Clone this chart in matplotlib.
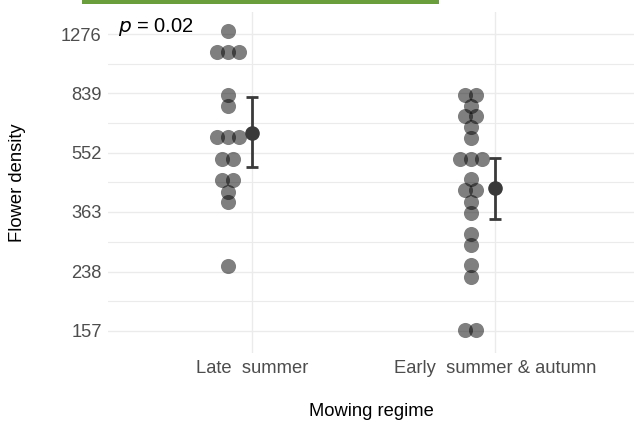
import numpy as np
import matplotlib
matplotlib.use('Agg')
import matplotlib.pyplot as plt
from matplotlib.patches import Rectangle

plt.rcParams['font.family'] = ['Liberation Sans', 'DejaVu Sans']

# data
groups = ['Late  summer', 'Early  summer & autumn']
late = [1303, 1121, 1121, 1121, 829, 767, 615, 615, 615, 528, 528,
        454, 454, 419, 389, 248]
early = [829, 829, 767, 715, 715, 663, 611, 527, 527, 527, 457, 424,
         424, 390, 361, 311, 287, 249, 230, 158, 158]
means = [635, 429]
lo = [498, 346]
hi = [816, 533]
yticks = [157, 238, 363, 552, 839, 1276]
ptext = '$p$ = 0.02'

W, H = 634, 422
fig = plt.figure(figsize=(W / 100, H / 100), dpi=100)
ax = fig.add_axes([108 / W, (H - 353) / H, (634 - 108) / W, (353 - 12) / H])

# green strip at top
fig.patches.append(Rectangle((82 / W, 1 - 4 / H), (439 - 82) / W, 4 / H,
                             transform=fig.transFigure, color='#6a9e3c', lw=0))

def stack(vals, xc, step=0.045):
    # spread equal values side by side (dotplot style)
    vals = np.array(vals)
    xs = np.zeros(len(vals))
    for v in np.unique(vals):
        idx = np.where(vals == v)[0]
        n = len(idx)
        xs[idx] = xc + (np.arange(n) - (n - 1) / 2) * step
    return xs

for i, vals in enumerate([late, early]):
    xs = stack(vals, i + 1 - 0.1)
    ax.scatter(xs, vals, s=118, color='black', alpha=0.5, lw=0, zorder=3)

xpos = np.arange(1, 3)
yerr = [np.array(means) - np.array(lo), np.array(hi) - np.array(means)]
ax.errorbar(xpos, means, yerr=yerr, fmt='o', color='#3a3a3a', ms=9.5,
            lw=2.0, capsize=4.3, capthick=2.0, zorder=4)

ax.set_yscale('log')
ax.set_ylim(134, 1491)
ax.set_xlim(0.407, 2.572)
ax.set_yticks(yticks)
ax.set_yticklabels([str(t) for t in yticks])
minor = [np.sqrt(yticks[k] * yticks[k + 1]) for k in range(len(yticks) - 1)]
ax.set_yticks(minor, minor=True)
ax.set_yticklabels([], minor=True)
ax.set_xticks(xpos)
ax.set_xticklabels(groups)

ax.tick_params(axis='both', which='both', length=0, labelsize=13.2,
               labelcolor='#4d4d4d')
ax.tick_params(axis='y', pad=4.5)
ax.tick_params(axis='x', pad=5)
ax.grid(True, which='major', color='#ebebeb', lw=1.0)
ax.grid(True, which='minor', axis='y', color='#ebebeb', lw=0.8)
ax.set_axisbelow(True)
for s in ax.spines.values():
    s.set_visible(False)

ax.text(10 / 526, (353 - 27) / 341, ptext, transform=ax.transAxes,
        fontsize=14.5, va='center', ha='left', color='black')

fig.text(18 / W, 1 - 183 / H, 'Flower density', rotation=90, fontsize=13.2,
         ha='center', va='center')
fig.text(371 / W, 1 - 411 / H, 'Mowing regime', fontsize=13.2,
         ha='center', va='center')

fig.savefig('out.png', dpi=100)
